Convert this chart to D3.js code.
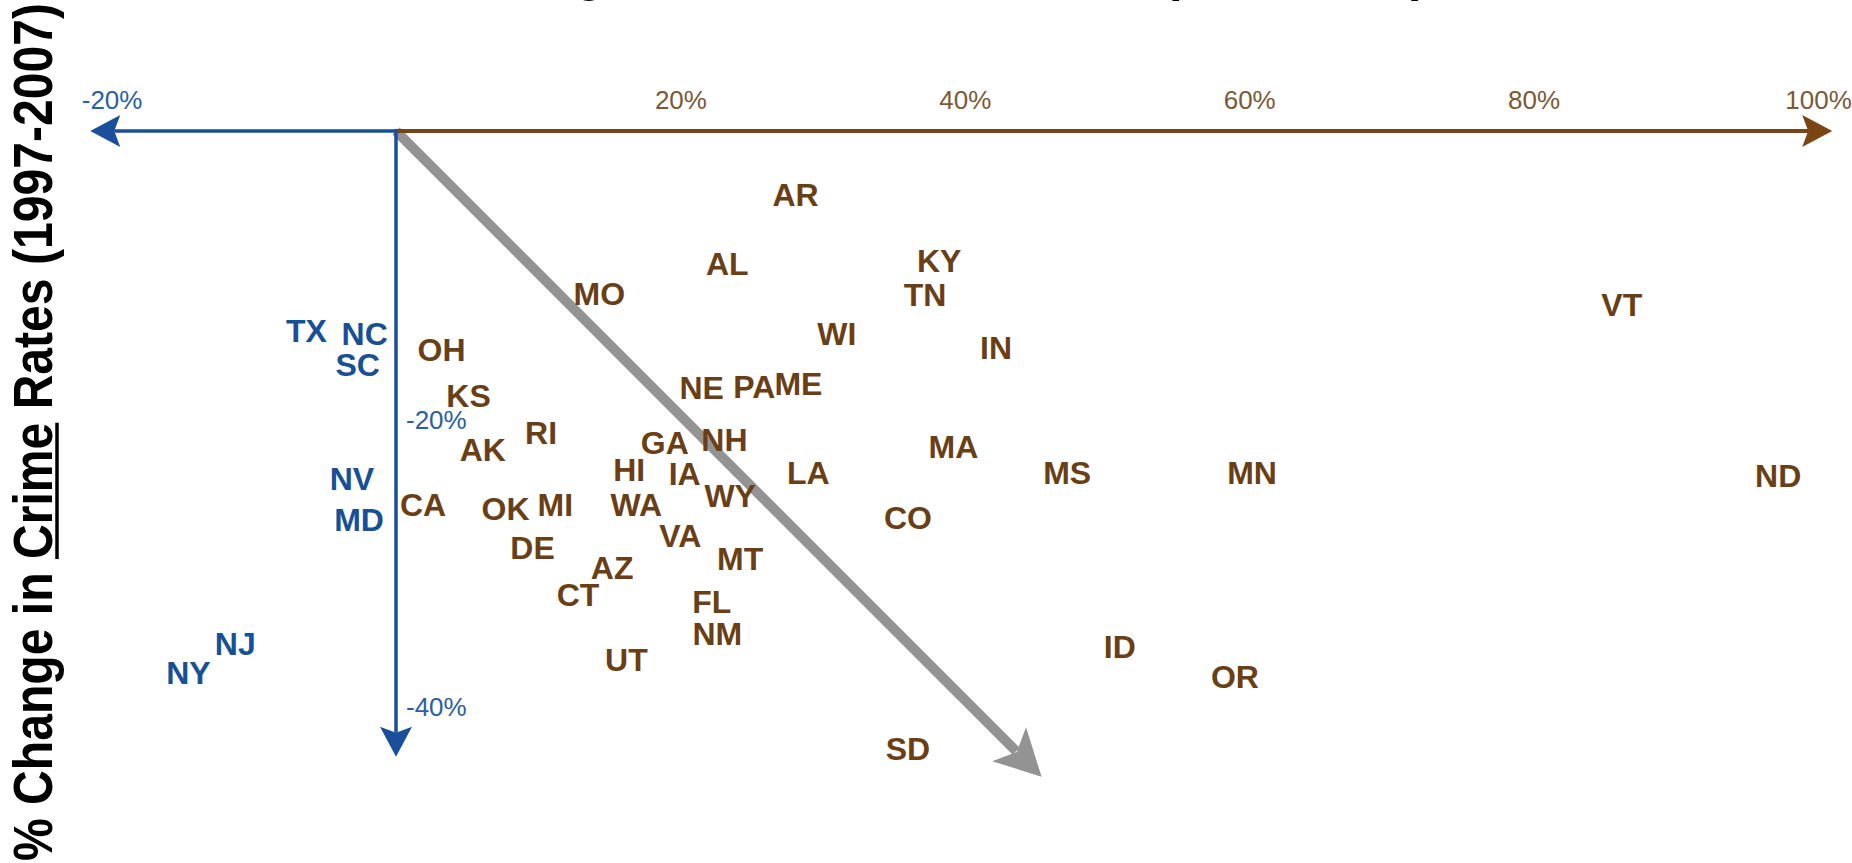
<!DOCTYPE html>
<html>
<head>
<meta charset="utf-8">
<script src="https://cdn.jsdelivr.net/npm/d3@7"></script>
<style>
  html, body { margin: 0; padding: 0; background: #fff; overflow: hidden; }
  svg { display: block; }
</style>
</head>
<body>
<svg id="chart"></svg>
<script>
// state codes, % change in incarceration rate (x), % change in crime rate (y)
const states = ["AR","AL","KY","TN","MO","VT","WI","IN","OH","NE","PA","ME","KS","RI","AK","GA","NH","MA",
  "HI","IA","LA","MS","MN","ND","CA","OK","MI","WA","WY","CO","DE","VA","MT","AZ","CT","FL","NM","UT",
  "ID","OR","SD","TX","NC","SC","NV","MD","NJ","NY"];
const incarcChange = [28.1,23.3,38.2,37.2,14.3,86.2,31.0,42.2,3.2,21.5,25.2,28.3,5.1,10.2,6.1,18.9,23.1,39.2,
  16.4,20.3,29.0,47.2,60.2,97.2,1.9,7.7,11.2,16.9,23.5,36.0,9.6,20.0,24.2,15.2,12.8,22.2,22.6,16.2,
  50.9,59.0,36.0,-6.3,-2.2,-2.7,-3.1,-2.6,-11.3,-14.6];
const crimeChange = [-4.4,-9.2,-9.0,-11.4,-11.3,-12.1,-14.1,-15.1,-15.2,-17.9,-17.8,-17.6,-18.4,-21.0,-22.2,-21.7,-21.5,-22.0,
  -23.6,-23.9,-23.8,-23.8,-23.8,-24.0,-26.0,-26.3,-26.0,-26.0,-25.4,-26.9,-29.0,-28.2,-29.8,-30.4,-32.3,-32.8,-35.0,-36.8,
  -35.9,-38.0,-43.0,-13.9,-14.1,-16.3,-24.2,-27.1,-35.7,-37.7];

const xTicks = [-20, 20, 40, 60, 80, 100];
const yTicks = [-20, -40];
const xExtent = [-21.5, 101];   // axis arrow tips
const yExtent = -43.6;
const trendEnd = [45.4, -45.0]; // grey diagonal arrow

const width = 1852, height = 863;
const brown = "#6b3f15", blue = "#175094";
const axisBrown = "#7a4513", axisBlue = "#1b4e9b";
const font = "'Liberation Sans', Arial, sans-serif";

const svg = d3.select("#chart").attr("width", width).attr("height", height);

const xScale = d3.scaleLinear().domain([0, 100]).range([396, 1818]);
const yScale = d3.scaleLinear().domain([0, -40]).range([131, 705]);

function arrowHead(g, tx, ty, angle, len, half, notch, color) {
  g.append("path")
    .attr("d", `M0,0 L${-len},${-half} L${-len + notch},0 L${-len},${half} Z`)
    .attr("transform", `translate(${tx},${ty}) rotate(${angle})`)
    .attr("fill", color);
}

const axes = svg.append("g");

// grey diagonal arrow
const gx0 = xScale(0), gy0 = yScale(0), gx1 = xScale(trendEnd[0]), gy1 = yScale(trendEnd[1]);
const gang = Math.atan2(gy1 - gy0, gx1 - gx0);
axes.append("line")
  .attr("x1", gx0).attr("y1", gy0)
  .attr("x2", gx1 - 36 * Math.cos(gang)).attr("y2", gy1 - 36 * Math.sin(gang))
  .attr("stroke", "#939393").attr("stroke-width", 10);
arrowHead(axes, gx1, gy1, gang * 180 / Math.PI, 46, 24, 11, "#939393");

// horizontal axis, blue to the left, brown to the right
axes.append("line")
  .attr("x1", xScale(0)).attr("y1", yScale(0))
  .attr("x2", xScale(xExtent[1]) - 24).attr("y2", yScale(0))
  .attr("stroke", axisBrown).attr("stroke-width", 4);
arrowHead(axes, xScale(xExtent[1]), yScale(0), 0, 30, 16, 6, axisBrown);

axes.append("line")
  .attr("x1", xScale(0) + 1.5).attr("y1", yScale(0))
  .attr("x2", xScale(xExtent[0]) + 24).attr("y2", yScale(0))
  .attr("stroke", axisBlue).attr("stroke-width", 3.5);
arrowHead(axes, xScale(xExtent[0]), yScale(0), 180, 30, 16, 6, axisBlue);

// vertical axis
axes.append("line")
  .attr("x1", xScale(0)).attr("y1", yScale(0) - 1.75)
  .attr("x2", xScale(0)).attr("y2", yScale(yExtent) - 24)
  .attr("stroke", axisBlue).attr("stroke-width", 3.5);
arrowHead(axes, xScale(0), yScale(yExtent), 90, 30, 16, 6, axisBlue);

// tick labels
const xAxis = d3.axisTop(xScale).tickValues(xTicks).tickSize(0).tickPadding(0).tickFormat(d => d + "%");
const gxa = svg.append("g").attr("transform", "translate(0,109)").call(xAxis);
gxa.select(".domain").remove();
gxa.selectAll("text")
  .attr("font-family", font).attr("font-size", 26)
  .attr("fill", d => d < 0 ? "#2b5ea6" : "#7d5835");

const yAxis = d3.axisRight(yScale).tickValues(yTicks).tickSize(0).tickPadding(10).tickFormat(d => d + "%");
const gya = svg.append("g").attr("transform", `translate(${xScale(0)},0)`).call(yAxis);
gya.select(".domain").remove();
gya.selectAll("text")
  .attr("dy", "0.42em")
  .attr("font-family", font).attr("font-size", 26)
  .attr("fill", "#2b5ea6");

// state labels
const pts = states.map((s, i) => ({ s, x: incarcChange[i], y: crimeChange[i] }));
svg.append("g").selectAll("text").data(pts).join("text")
  .attr("x", d => xScale(d.x))
  .attr("y", d => yScale(d.y))
  .attr("dy", "0.36em")
  .attr("text-anchor", "middle")
  .attr("font-family", font).attr("font-weight", "bold").attr("font-size", 32)
  .attr("fill", d => d.x < 0 ? blue : brown)
  .text(d => d.s);

// titles with one underlined word
function underlinedTitle(g, label, word, length, size, off) {
  const t = g.append("text")
    .attr("x", 0).attr("y", 0)
    .attr("font-family", font).attr("font-weight", "bold").attr("font-size", size)
    .attr("textLength", length).attr("lengthAdjust", "spacingAndGlyphs")
    .attr("fill", "#000")
    .text(label);
  const i0 = label.indexOf(word), i1 = i0 + word.length - 1;
  const node = t.node();
  const xa = node.getStartPositionOfChar(i0).x, xb = node.getEndPositionOfChar(i1).x;
  g.append("line").attr("x1", xa).attr("x2", xb).attr("y1", off).attr("y2", off)
    .attr("stroke", "#000").attr("stroke-width", 3.5);
}

const yTitle = svg.append("g").attr("transform", "translate(52,861) rotate(-90)");
underlinedTitle(yTitle, "% Change in Crime Rates (1997-2007)", "Crime", 858, 55, 5);

const xTitle = svg.append("g").attr("transform", "translate(397,-11)");
underlinedTitle(xTitle, "% Change in Incarceration Rates (1997-2007)", "Incarceration", 1030, 58, 5);
</script>
</body>
</html>
